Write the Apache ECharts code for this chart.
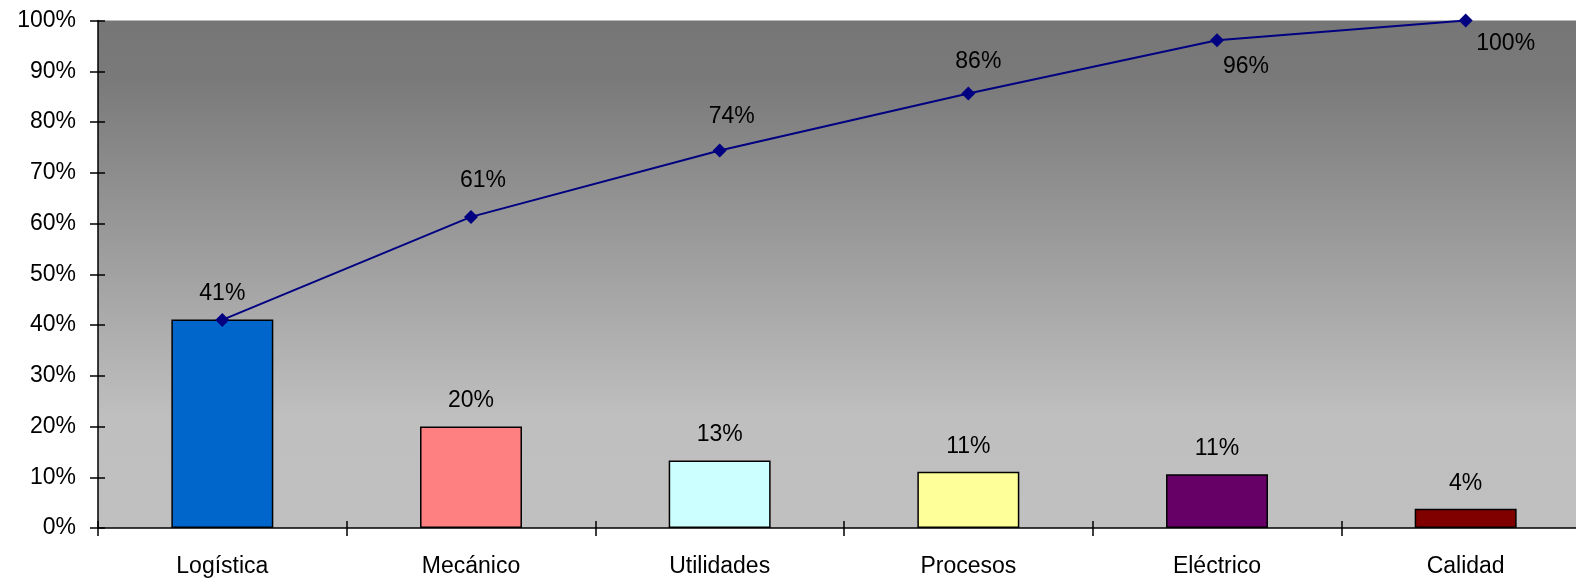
<!DOCTYPE html>
<html>
<head>
<meta charset="utf-8">
<script src="https://cdn.jsdelivr.net/npm/echarts@6/dist/echarts.min.js"></script>
<style>
  html, body { margin: 0; padding: 0; background: #fff; }
  #chart { width: 1576px; height: 584px; }
</style>
</head>
<body>
<div id="chart"></div>
<script>
  // datos del diagrama de Pareto
  const categorias = ["Logística", "Mecánico", "Utilidades", "Procesos", "Eléctrico", "Calidad"];
  const porcentajes = [41.1, 20.0, 13.3, 11.1, 10.6, 3.8];
  const acumulado = [41, 61.3, 74.4, 85.6, 96.1, 100];
  const coloresBarras = ["#0066CC", "#FF8080", "#CCFFFF", "#FFFF99", "#660066", "#800000"];
  const ticksY = [0, 10, 20, 30, 40, 50, 60, 70, 80, 90, 100];

  const fuente = '"Liberation Sans", Arial, sans-serif';
  const tam = 23;

  // posicion de las etiquetas de la linea acumulada
  const etiquetasLinea = [
    { show: false },
    { position: "top", distance: 18, offset: [12, 0] },
    { position: "top", distance: 15, offset: [12, 0] },
    { position: "top", distance: 13, offset: [10, 0] },
    { position: "bottom", distance: 8, offset: [29, 0] },
    { position: "bottom", distance: 5, offset: [40, 0] }
  ];

  let myChart = echarts.init(document.getElementById("chart"));

  myChart.setOption({
    animation: false,
    grid: {
      left: 98,
      width: 1492,
      top: 20.5,
      bottom: 56,
      outerBoundsMode: "none",
      containLabel: false,
      show: true,
      borderWidth: 0,
      backgroundColor: new echarts.graphic.LinearGradient(0, 0, 0, 1, [
        { offset: 0, color: "#767676" },
        { offset: 0.12, color: "#7a7a7a" },
        { offset: 0.78, color: "#bfbfbf" },
        { offset: 1, color: "#c0c0c0" }
      ])
    },
    xAxis: [
      {
        type: "category",
        data: categorias,
        axisLine: { lineStyle: { color: "#000", width: 1.5 } },
        axisTick: { show: true, length: 8, lineStyle: { color: "#000", width: 1.5 } },
        axisLabel: { color: "#000", fontSize: tam, fontFamily: fuente, margin: 27 }
      },
      {
        type: "category",
        data: categorias,
        position: "bottom",
        axisLine: { show: false },
        axisTick: { show: true, inside: true, length: 7, lineStyle: { color: "#000", width: 1.5 } },
        axisLabel: { show: false }
      }
    ],
    yAxis: [
      {
        type: "value",
        min: ticksY[0],
        max: ticksY[ticksY.length - 1],
        interval: 10,
        axisLine: { show: true, lineStyle: { color: "#000", width: 1.5 } },
        axisTick: { show: true, length: 8, lineStyle: { color: "#000", width: 1.5 } },
        splitLine: { show: false },
        axisLabel: {
          color: "#000",
          fontSize: tam,
          fontFamily: fuente,
          margin: 22,
          formatter: v => v + "%"
        }
      },
      {
        type: "value",
        min: ticksY[0],
        max: ticksY[ticksY.length - 1],
        interval: 10,
        position: "left",
        axisLine: { show: false },
        axisTick: { show: true, inside: true, length: 7, lineStyle: { color: "#000", width: 1.5 } },
        splitLine: { show: false },
        axisLabel: { show: false }
      }
    ],
    series: [
      {
        name: "Porcentaje",
        type: "bar",
        barWidth: "41%",
        data: porcentajes.map((v, i) => ({
          value: v,
          itemStyle: { color: coloresBarras[i] }
        })),
        itemStyle: { borderColor: "#000", borderWidth: 1.5 },
        label: {
          show: true,
          position: "top",
          distance: 14,
          color: "#000",
          fontSize: tam,
          fontFamily: fuente,
          formatter: p => Math.round(p.value) + "%"
        }
      },
      {
        name: "Acumulado",
        type: "line",
        data: acumulado.map((v, i) => ({ value: v, label: etiquetasLinea[i] })),
        symbol: "diamond",
        symbolSize: 14,
        lineStyle: { color: "#000080", width: 2 },
        itemStyle: { color: "#000080" },
        label: {
          show: true,
          color: "#000",
          fontSize: tam,
          fontFamily: fuente,
          formatter: p => Math.round(p.value) + "%"
        },
        z: 5
      }
    ]
  });
</script>
</body>
</html>
